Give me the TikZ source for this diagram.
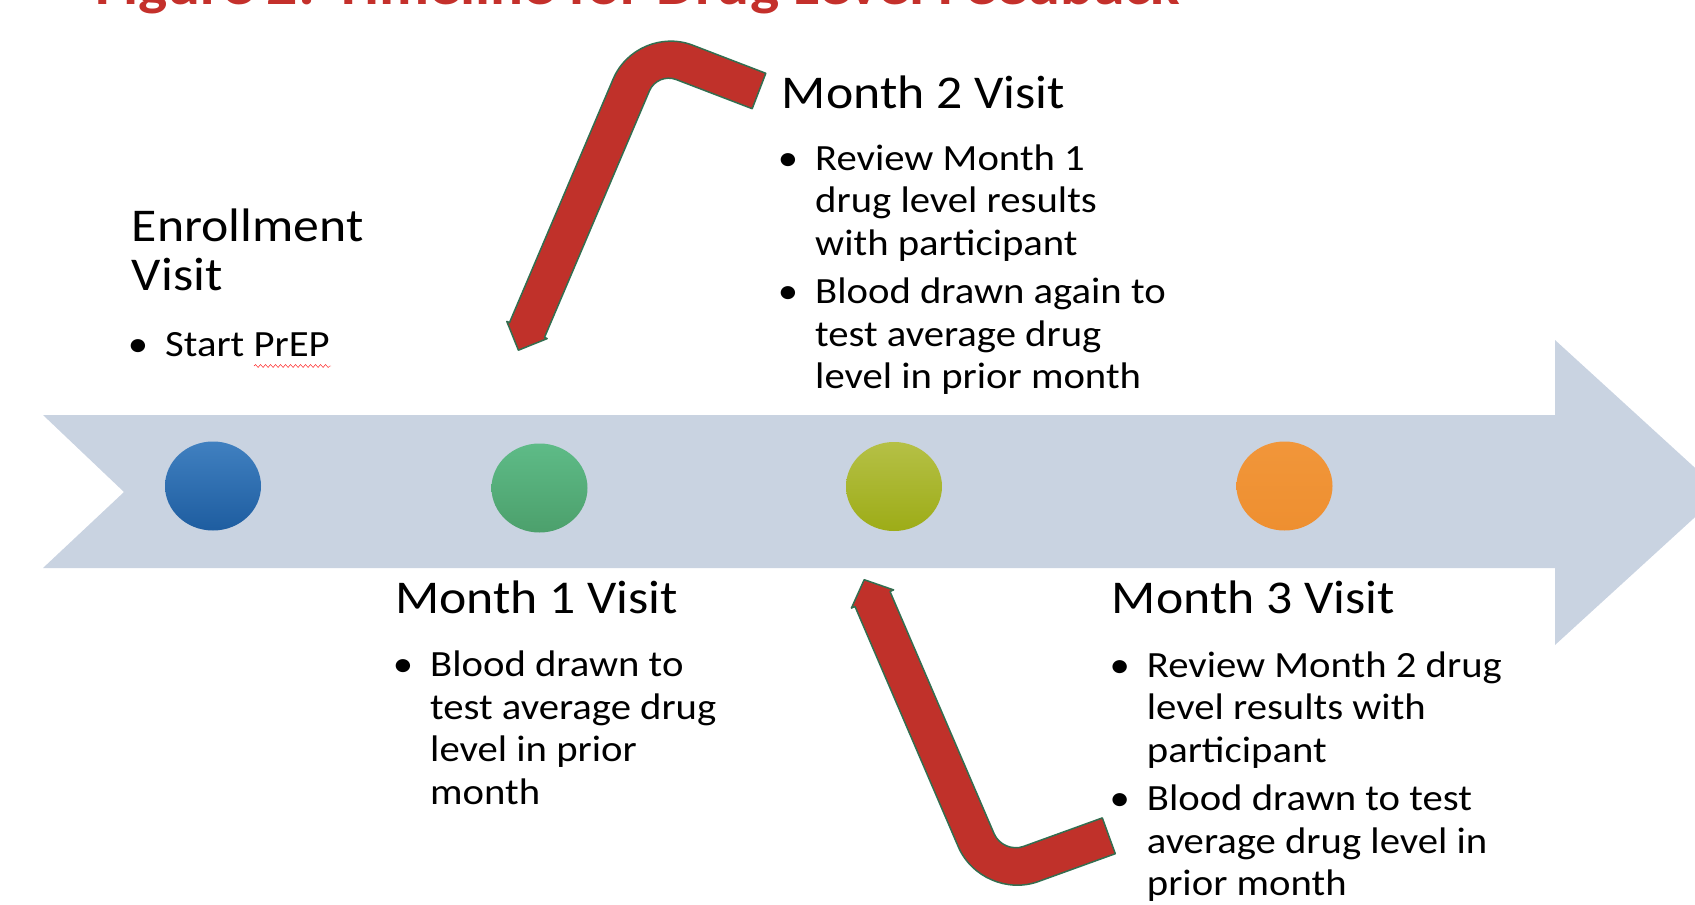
\documentclass[tikz,border=0pt]{standalone}
\usepackage{fontspec}
\setmainfont{Carlito}[FakeStretch=1.1]
\usetikzlibrary{positioning,shapes.geometric,decorations.pathmorphing}

\definecolor{band}{HTML}{C9D3E1}
\definecolor{bendred}{HTML}{C0312A}
\definecolor{bendline}{HTML}{336E50}
\definecolor{titlered}{HTML}{C4302B}

\tikzset{
  head/.style={anchor=base west,inner sep=0pt,align=left,font=\fontsize{47}{48.3}\selectfont},
  note/.style={anchor=base west,inner sep=0pt,align=left,font=\fontsize{37}{42.5}\selectfont},
  visit/.style={ellipse,minimum width=96pt,minimum height=89pt,inner sep=0pt},
  bentarrow/.style={fill=bendred,draw=bendline,line width=1.5pt,line join=round},
}
\newcommand{\itm}{\llap{\textbullet\hspace{17pt}}}

\begin{document}
\begin{tikzpicture}[x=1pt,y=-1pt]
\useasboundingbox (0,0) rectangle (1695,905);
\clip (0,0) rectangle (1695,905);

% title, cut off at the top
\node[anchor=base west,inner sep=0pt,text=titlered,font=\bfseries\fontsize{56}{60}\selectfont] (ttl) at (95,4) {Figure 2: Timeline for Drug Level Feedback};

% timeline band
\fill[band] (43,415) -- (1555,415) -- (1555,340) -- (1722,492.5) -- (1555,645)
  -- (1555,568) -- (43,568) -- (124,492) -- cycle;

% visits on the band
\node[visit,top color={rgb,255:red,64;green,128;blue,192},bottom color={rgb,255:red,30;green,93;blue,160}] (v0) at (213,486) {};
\node[visit,top color={rgb,255:red,94;green,187;blue,135},bottom color={rgb,255:red,76;green,160;blue,108}] (v1) at (539.5,488) {};
\node[visit,top color={rgb,255:red,181;green,192;blue,70},bottom color={rgb,255:red,157;green,172;blue,23}] (v2) at (894,486.5) {};
\node[visit,top color={rgb,255:red,241;green,150;blue,58},bottom color={rgb,255:red,238;green,143;blue,48}] (v3) at (1284.5,486) {};

% bent arrows
\filldraw[bentarrow] (765.8,73.3) -- (692.7,45.2) .. controls (661.8,33.3) and (626.2,48.4) .. (613.2,78.9)
  -- (509.5,322.6) -- (506.8,321.4) -- (518.4,350.2) -- (547.2,338.6) -- (544.5,337.4)
  -- (649.5,90.7) .. controls (653.8,80.6) and (665.7,75.6) .. (676,79.5) -- (752.2,108.7) -- cycle;
\filldraw[bentarrow] (864.2,579.7) -- (893.6,589.9) -- (890,591.5)
  -- (994.1,833.7) .. controls (998.9,844.8) and (1012.1,850.5) .. (1023.5,846.4) -- (1102.3,817.9)
  -- (1115.3,853.7) -- (1038.4,881.5) .. controls (1007.3,892.8) and (971.4,877.2) .. (958.3,846.8)
  -- (855,606.5) -- (851.4,608.1) -- cycle;

% enrollment
\node[head] (e0) at (131.7,290) {Enrollment\\Visit};
\node[note] (e1) at (165,356.7) {\itm Start PrEP};
\draw[red,decorate,decoration={snake,amplitude=1.5pt,segment length=5pt}] (254,366) -- (331,366);

% month 1
\node[head] (m1) at (395,613.3) {Month 1 Visit};
\node[note] (m1a) at (430,804) {\itm Blood drawn to\\test average drug\\level in prior\\month};

% month 2
\node[head] (m2) at (781.7,108.3) {Month 2 Visit};
\node[note] (m2a) at (815,388.5) {\itm Review Month 1\\drug level results\\with participant\\[6pt]
  \itm Blood drawn again to\\test average drug\\level in prior month};

% month 3
\node[head] (m3) at (1111.7,613.3) {Month 3 Visit};
\node[note] (m3a) at (1146.7,895.5) {\itm Review Month 2 drug\\level results with\\participant\\[6pt]
  \itm Blood drawn to test\\average drug level in\\prior month};
\end{tikzpicture}
\end{document}
